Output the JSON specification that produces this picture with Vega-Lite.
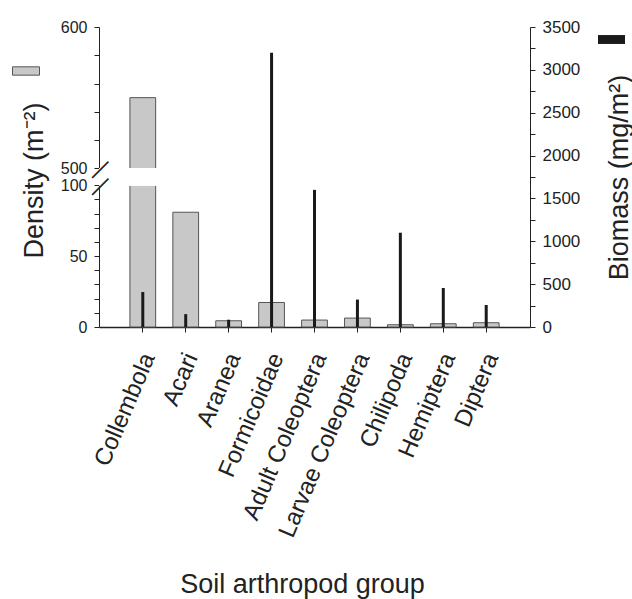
{
  "$schema": "https://vega.github.io/schema/vega-lite/v6.json",
  "width": 431,
  "height": 300,
  "autosize": "none",
  "padding": {"left": 99, "top": 27, "right": 102, "bottom": 272},
  "background": "white",
  "config": {
    "view": {"stroke": null},
    "font": "Liberation Sans",
    "axis": {"domainColor": "#222", "tickColor": "#222", "labelColor": "#222", "titleColor": "#222", "grid": false, "titleFontWeight": "normal", "labelFont": "Liberation Sans", "titleFont": "Liberation Sans"}
  },
  "data": {
    "values": [
      {"group": "Collembola", "density": 550, "biomass": 408},
      {"group": "Acari", "density": 81, "biomass": 150},
      {"group": "Aranea", "density": 4.4, "biomass": 85},
      {"group": "Formicoidae", "density": 17.3, "biomass": 3200},
      {"group": "Adult Coleoptera", "density": 4.9, "biomass": 1600},
      {"group": "Larvae Coleoptera", "density": 6.3, "biomass": 320},
      {"group": "Chilipoda", "density": 1.6, "biomass": 1100},
      {"group": "Hemiptera", "density": 2.3, "biomass": 455},
      {"group": "Diptera", "density": 3, "biomass": 257}
    ]
  },
  "layer": [
    {
      "layer": [
        {
          "mark": {"type": "bar", "stroke": "#555", "strokeWidth": 1},
          "encoding": {
            "x": {
              "field": "group", "type": "nominal", "sort": null,
              "scale": {"paddingInner": 0.4, "paddingOuter": 0.72},
              "axis": {
                "labelAngle": -67, "labelFontSize": 24, "tickSize": 5, "labelPadding": 22, "labelOffset": 6,
                "labelLimit": 0,
                "title": "Soil arthropod group", "titleFontSize": 27,
                "titleX": 203, "titleY": 265, "titleBaseline": "alphabetic", "titleAlign": "center",
                "domainWidth": 1.5
              }
            },
            "y": {
              "field": "density", "type": "quantitative",
              "scale": {"domain": [0, 100, 500, 600], "range": [300, 158.3, 141.3, 0], "nice": false, "zero": false},
              "axis": {
                "orient": "left",
                "values": [0, 10, 20, 30, 40, 50, 60, 70, 80, 90, 100, 500, 520, 540, 560, 580, 600],
                "labelExpr": "datum.value % 50 == 0 ? datum.label : ''",
                "labelOverlap": false, "labelFontSize": 16, "tickSize": 5, "labelPadding": 7,
                "labelBound": false, "labelFlush": false,
                "title": "Density (m⁻²)", "titleFontSize": 27, "titleAngle": -90,
                "titleX": -57, "titleY": 153, "titleBaseline": "alphabetic", "titleAlign": "center"
              }
            },
            "fill": {
              "datum": "Density", "type": "nominal",
              "scale": {"range": ["#c8c8c8"]},
              "legend": {
                "orient": "none", "legendX": -87, "legendY": 30, "title": null,
                "labelExpr": "''", "symbolType": "M-1,-0.31H1V0.31H-1Z", "symbolSize": 729,
                "symbolStrokeColor": "#555", "symbolStrokeWidth": 1, "padding": 0
              }
            }
          }
        },
        {
          "mark": {"type": "rect", "color": "white"},
          "encoding": {
            "y": {
              "datum": 100, "type": "quantitative",
              "axis": {
                "orient": "left", "values": [100, 500], "labelExpr": "'—'",
                "labelAngle": -45, "labelAlign": "center", "labelBaseline": "middle",
                "ticks": false, "tickSize": 0, "domain": false, "labelPadding": 0,
                "labelFontSize": 23, "title": null, "zindex": 2, "labelOverlap": false,
                "labelBound": false, "labelFlush": false
              }
            },
            "y2": {"datum": 500}
          }
        }
      ],
      "resolve": {"axis": {"y": "independent"}}
    },
    {
      "mark": {"type": "bar", "size": 3},
      "encoding": {
        "x": {"field": "group", "type": "nominal", "sort": null, "scale": {"paddingInner": 0.4, "paddingOuter": 0.72}},
        "y": {
          "field": "biomass", "type": "quantitative",
          "scale": {"domain": [0, 3500], "nice": false},
          "axis": {
            "orient": "right",
            "values": [0, 250, 500, 750, 1000, 1250, 1500, 1750, 2000, 2250, 2500, 2750, 3000, 3250, 3500],
            "labelExpr": "datum.value % 500 == 0 ? datum.label : ''",
            "format": "d", "labelOverlap": false, "labelFontSize": 17, "tickSize": 5, "labelPadding": 7,
            "labelBound": false, "labelFlush": false,
            "title": "Biomass (mg/m²)", "titleFontSize": 27, "titleAngle": -90,
            "titleX": 97, "titleY": 150, "titleBaseline": "alphabetic", "titleAlign": "center"
          }
        },
        "color": {
          "datum": "Biomass", "type": "nominal",
          "scale": {"range": ["#1a1a1a"]},
          "legend": {
            "orient": "none", "legendX": 499, "legendY": -1, "title": null,
            "labelExpr": "''", "symbolType": "M-1,-0.33H1V0.33H-1Z", "symbolSize": 729,
            "symbolStrokeWidth": 0, "padding": 0
          }
        }
      }
    }
  ],
  "resolve": {"scale": {"y": "independent"}}
}
